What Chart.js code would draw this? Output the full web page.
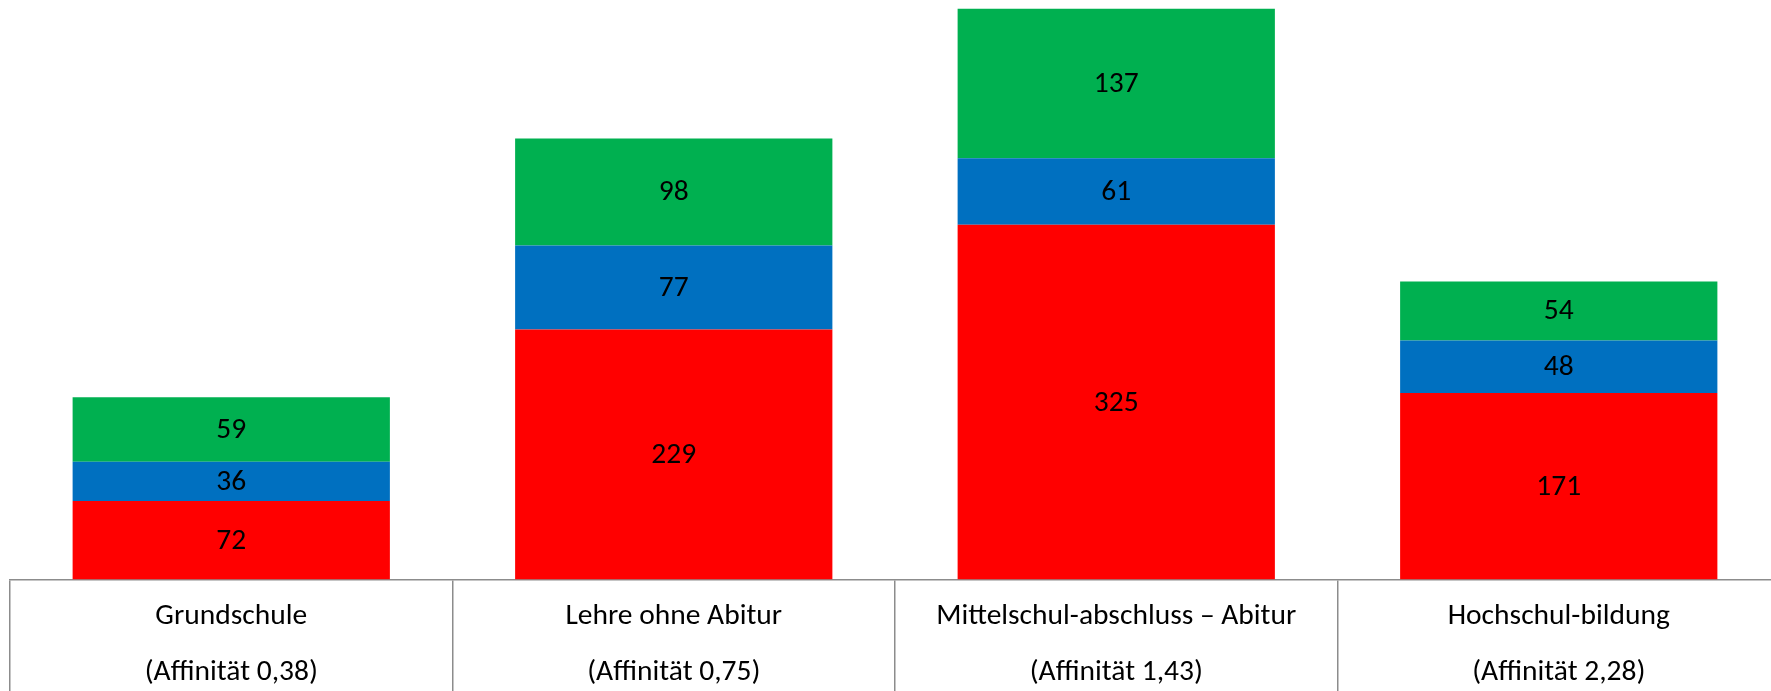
<!DOCTYPE html>
<html>
<head>
<meta charset="utf-8">
<script src="https://cdn.jsdelivr.net/npm/chart.js@4"></script>
<style>
  html, body { margin: 0; padding: 0; background: #fff; overflow: hidden; }
  #wrap { position: relative; width: 1790px; height: 691px; }
</style>
</head>
<body>
<div id="wrap"><canvas id="chart"></canvas></div>
<script>
const categories = ["Grundschule", "Lehre ohne Abitur", "Mittelschul-abschluss – Abitur", "Hochschul-bildung"];
const affinities = ["(Affinität 0,38)", "(Affinität 0,75)", "(Affinität 1,43)", "(Affinität 2,28)"];
const seriesRed = [72, 229, 325, 171];
const seriesBlue = [36, 77, 61, 48];
const seriesGreen = [59, 98, 137, 54];

const fontFamily = "Carlito, Lato, sans-serif";
const lineColor = "#8c8c8c";

// draws the numbers in the middle of each segment
const valueLabels = {
  id: "valueLabels",
  afterDatasetsDraw(chart) {
    const ctx = chart.ctx;
    ctx.save();
    ctx.font = "29.5px " + fontFamily;
    ctx.fillStyle = "#000";
    ctx.textAlign = "center";
    ctx.textBaseline = "middle";
    chart.data.datasets.forEach(function (ds, i) {
      chart.getDatasetMeta(i).data.forEach(function (bar, j) {
        const p = bar.getProps(["x", "y", "base"], true);
        ctx.fillText(String(ds.data[j]), p.x, (p.y + p.base) / 2 + 1);
      });
    });
    ctx.restore();
  }
};

function init() {
  const ctx = document.getElementById("chart");
  const labels = categories.map(function (c, i) { return [c, affinities[i]]; });

  new Chart(ctx, {
    type: "bar",
    data: {
      labels: labels,
      datasets: [
        { label: "Rot", data: seriesRed, backgroundColor: "#ff0000" },
        { label: "Blau", data: seriesBlue, backgroundColor: "#0070c0" },
        { label: "Grün", data: seriesGreen, backgroundColor: "#00b050" }
      ]
    },
    options: {
      responsive: true,
      maintainAspectRatio: false,
      animation: false,
      layout: { padding: { left: 10, right: 10, top: 0, bottom: 0 } },
      datasets: { bar: { categoryPercentage: 1, barPercentage: 0.717, borderWidth: 0 } },
      plugins: { legend: { display: false }, tooltip: { enabled: false } },
      scales: {
        x: {
          stacked: true,
          offset: true,
          grid: {
            offset: true,
            drawOnChartArea: false,
            drawTicks: true,
            tickLength: 112,
            color: lineColor,
            lineWidth: 1.5
          },
          border: { display: true, color: lineColor, width: 1.5 },
          ticks: {
            autoSkip: false,
            maxRotation: 0,
            padding: -102.5,
            color: "#000",
            font: { family: fontFamily, size: 29.5, lineHeight: "56px" }
          },
          afterFit: function (scale) { scale.height = 111.5; }
        },
        y: {
          stacked: true,
          display: false,
          min: 0,
          max: 531
        }
      }
    },
    plugins: [valueLabels]
  });
}

window.onload = init;
</script>
</body>
</html>
